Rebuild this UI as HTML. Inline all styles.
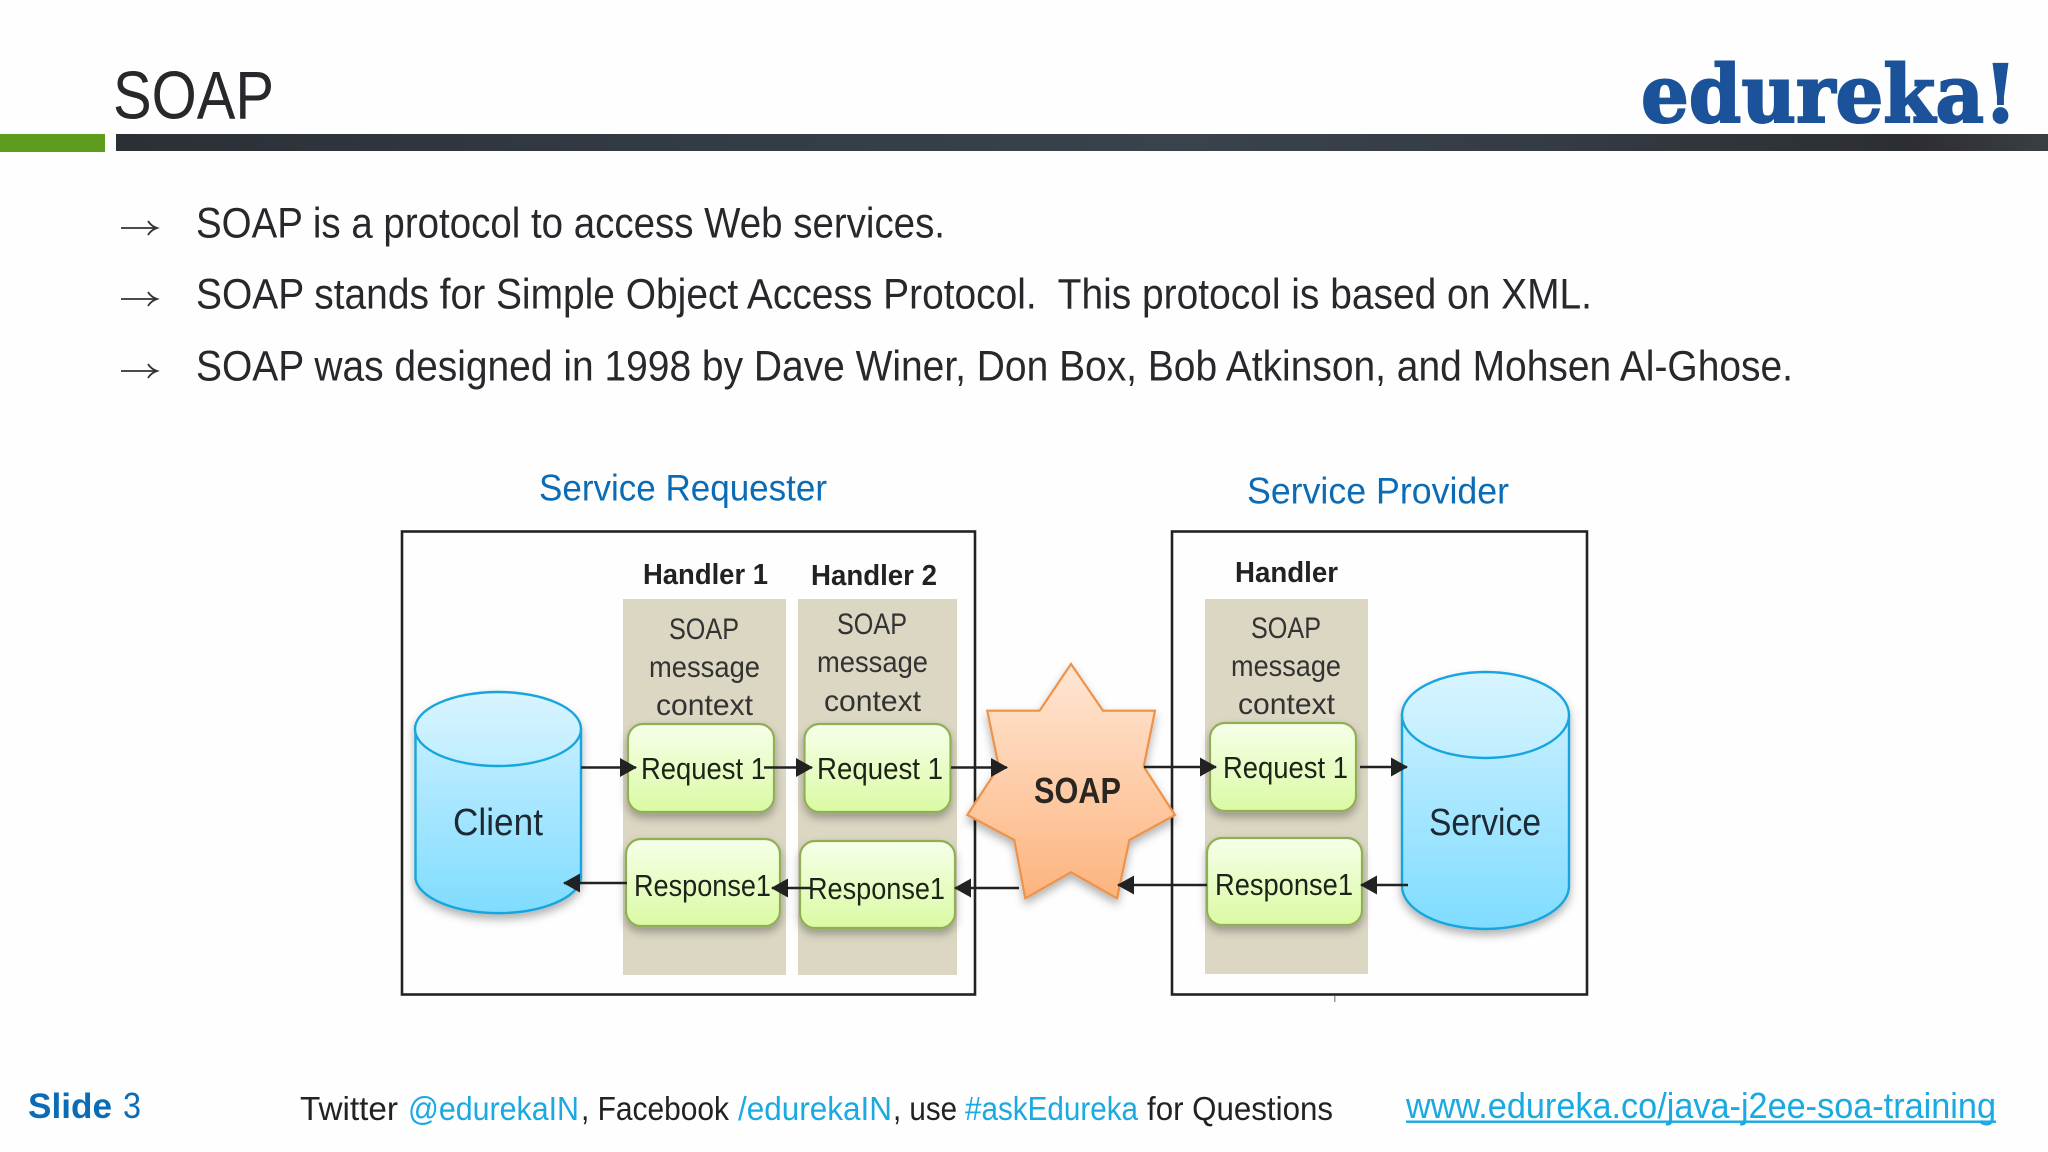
<!DOCTYPE html>
<html><head><meta charset="utf-8"><title>SOAP</title>
<style>
html,body{margin:0;padding:0;background:#fff;width:2048px;height:1152px;overflow:hidden}
svg{display:block}
text{font-family:"Liberation Sans",sans-serif;fill:#222;white-space:pre}
.b{font-size:43px;fill:#26282b}
.h{font-size:29px;font-weight:bold;fill:#222}
.m{font-size:30px;fill:#333}
.r{font-size:31px;fill:#1c2318}
.c{font-size:38px;fill:#1d2a33}
.f{font-size:33px;fill:#222}
.l{font-size:33px;fill:#1aa9e0}
.s{font-size:37px;fill:#0b6cb5}
</style></head><body>
<svg xmlns="http://www.w3.org/2000/svg" width="2048" height="1152" viewBox="0 0 2048 1152">
<defs>
<linearGradient id="bar" x1="0" x2="1" y1="0" y2="0">
<stop offset="0" stop-color="#2b3036"/><stop offset=".3" stop-color="#333b44"/><stop offset=".55" stop-color="#3a424d"/><stop offset=".75" stop-color="#343b43"/><stop offset=".93" stop-color="#2c2e31"/><stop offset="1" stop-color="#3b3e42"/>
</linearGradient>
<linearGradient id="cyl" x1="0" x2="0" y1="0" y2="1">
<stop offset="0" stop-color="#c4eeff"/><stop offset="1" stop-color="#7fdcff"/>
</linearGradient>
<linearGradient id="top" x1="0" x2="0" y1="0" y2="1">
<stop offset="0" stop-color="#d8f4ff"/><stop offset="1" stop-color="#bfeeff"/>
</linearGradient>
<linearGradient id="gr" x1="0" x2="0" y1="0" y2="1">
<stop offset="0" stop-color="#f6ffe9"/><stop offset="1" stop-color="#dafaa3"/>
</linearGradient>
<linearGradient id="st" x1="0" x2="0" y1="0" y2="1">
<stop offset="0" stop-color="#fee6d4"/><stop offset="1" stop-color="#fdb47e"/>
</linearGradient>
<filter id="sh" x="-15%" y="-15%" width="130%" height="135%">
<feDropShadow dx="0" dy="5" stdDeviation="4.5" flood-color="#000" flood-opacity=".3"/>
</filter>
<marker id="ah" markerUnits="userSpaceOnUse" markerWidth="17" markerHeight="19" refX="16" refY="9.5" orient="auto">
<path d="M0 0L17 9.5L0 19Z" fill="#222"/>
</marker>
</defs>

<rect width="2048" height="1152" fill="#fefefe"/>

<!-- header -->
<text x="113" y="118.5" font-size="68" textLength="161" lengthAdjust="spacingAndGlyphs" style="fill:#26282b">SOAP</text>
<text x="1641" y="122" font-size="80" textLength="376" lengthAdjust="spacingAndGlyphs" style="font-family:'DejaVu Serif',serif;font-weight:bold;fill:#1b5299;stroke:#1b5299;stroke-width:2">edureka!</text>
<rect x="0" y="134" width="105" height="18" fill="#5d9c1c"/>
<rect x="116" y="134" width="1932" height="17" fill="url(#bar)"/>

<!-- bullets -->
<g stroke="#333" stroke-width="1.8" fill="none">
<path d="M121 228H157M148 221Q151 226 157 228Q151 230 148 235"/>
<path d="M121 299H157M148 292Q151 297 157 299Q151 301 148 306"/>
<path d="M121 371H157M148 364Q151 369 157 371Q151 373 148 378"/>
</g>
<text class="b" x="196" y="237.5" textLength="749" lengthAdjust="spacingAndGlyphs">SOAP is a protocol to access Web services.</text>
<text class="b" x="196" y="308.5" textLength="1396" lengthAdjust="spacingAndGlyphs">SOAP stands for Simple Object Access Protocol.  This protocol is based on XML.</text>
<text class="b" x="196" y="380.5" textLength="1597" lengthAdjust="spacingAndGlyphs">SOAP was designed in 1998 by Dave Winer, Don Box, Bob Atkinson, and Mohsen Al-Ghose.</text>

<!-- titles -->
<text class="s" x="539" y="500.5" textLength="288" lengthAdjust="spacingAndGlyphs">Service Requester</text>
<text class="s" x="1247" y="503.5" textLength="262" lengthAdjust="spacingAndGlyphs">Service Provider</text>

<!-- frames -->
<rect x="402" y="531.5" width="573" height="463" fill="none" stroke="#222" stroke-width="2.6"/>
<rect x="1172" y="531.5" width="415" height="463" fill="none" stroke="#222" stroke-width="2.6"/>
<rect x="1334" y="996" width="1.5" height="6" fill="#999"/>

<!-- handler bands -->
<rect x="623" y="599" width="163" height="376" fill="#dbd7c3"/>
<rect x="798" y="599" width="159" height="376" fill="#dbd7c3"/>
<rect x="1205" y="599" width="163" height="375" fill="#dbd7c3"/>

<text class="h" x="643" y="584" textLength="125" lengthAdjust="spacingAndGlyphs">Handler 1</text>
<text class="h" x="811" y="585" textLength="126" lengthAdjust="spacingAndGlyphs">Handler 2</text>
<text class="h" x="1235" y="582" textLength="103" lengthAdjust="spacingAndGlyphs">Handler</text>

<text class="m" x="669" y="639" textLength="70" lengthAdjust="spacingAndGlyphs">SOAP</text>
<text class="m" x="649" y="677" textLength="111" lengthAdjust="spacingAndGlyphs">message</text>
<text class="m" x="656" y="715" textLength="97" lengthAdjust="spacingAndGlyphs">context</text>
<text class="m" x="837" y="634" textLength="70" lengthAdjust="spacingAndGlyphs">SOAP</text>
<text class="m" x="817" y="672" textLength="111" lengthAdjust="spacingAndGlyphs">message</text>
<text class="m" x="824" y="711" textLength="97" lengthAdjust="spacingAndGlyphs">context</text>
<text class="m" x="1251" y="638" textLength="70" lengthAdjust="spacingAndGlyphs">SOAP</text>
<text class="m" x="1231" y="676" textLength="110" lengthAdjust="spacingAndGlyphs">message</text>
<text class="m" x="1238" y="714" textLength="97" lengthAdjust="spacingAndGlyphs">context</text>

<!-- client -->
<g filter="url(#sh)">
<path d="M415.5 729V879A83 37 0 0 0 581 879V729Z" fill="url(#cyl)" stroke="#16a5dc" stroke-width="2.4"/>
<ellipse cx="498" cy="729" rx="83" ry="37" fill="url(#top)" stroke="#16a5dc" stroke-width="2.4"/>
</g>
<text class="c" x="453" y="835" textLength="90" lengthAdjust="spacingAndGlyphs">Client</text>

<!-- service -->
<g filter="url(#sh)">
<path d="M1402 715V886A83.5 43 0 0 0 1569 886V715Z" fill="url(#cyl)" stroke="#16a5dc" stroke-width="2.4"/>
<ellipse cx="1485.5" cy="715" rx="83.5" ry="43" fill="url(#top)" stroke="#16a5dc" stroke-width="2.4"/>
</g>
<text class="c" x="1429" y="835" textLength="112" lengthAdjust="spacingAndGlyphs">Service</text>

<!-- star -->
<path filter="url(#sh)" d="M1071 664L1103 710.7H1155L1143.7 766.7L1175 815L1129.4 840L1117 898.3L1071 872.3L1025.3 898.3L1014.3 840L967.3 815L998.8 766.7L987.3 710.7H1039.6Z" fill="url(#st)" stroke="#ee9248" stroke-width="2.2" stroke-linejoin="miter"/>
<text x="1034" y="803" font-size="36" font-weight="bold" textLength="87" lengthAdjust="spacingAndGlyphs" style="fill:#2a2622">SOAP</text>

<!-- boxes -->
<g fill="url(#gr)" stroke="#8fae55" stroke-width="2.2" filter="url(#sh)">
<rect x="628" y="724" width="146" height="88" rx="15"/>
<rect x="804.5" y="724" width="146" height="88" rx="15"/>
<rect x="626" y="839" width="154" height="87" rx="15"/>
<rect x="800" y="841" width="155" height="87" rx="15"/>
<rect x="1210" y="723" width="146" height="88" rx="15"/>
<rect x="1207" y="838" width="155" height="87" rx="15"/>
</g>
<text class="r" x="641" y="779" textLength="125" lengthAdjust="spacingAndGlyphs">Request 1</text>
<text class="r" x="817" y="779" textLength="126" lengthAdjust="spacingAndGlyphs">Request 1</text>
<text class="r" x="1223" y="778" textLength="125" lengthAdjust="spacingAndGlyphs">Request 1</text>
<text class="r" x="634" y="896" textLength="137" lengthAdjust="spacingAndGlyphs">Response1</text>
<text class="r" x="808" y="899" textLength="137" lengthAdjust="spacingAndGlyphs">Response1</text>
<text class="r" x="1215" y="895" textLength="138" lengthAdjust="spacingAndGlyphs">Response1</text>

<!-- connectors -->
<g stroke="#222" stroke-width="2.6" fill="none">
<line x1="581" y1="767.5" x2="636" y2="767.5" marker-end="url(#ah)"/>
<line x1="764" y1="767.5" x2="812" y2="767.5" marker-end="url(#ah)"/>
<line x1="951" y1="767.5" x2="1007" y2="767.5" marker-end="url(#ah)"/>
<line x1="1144" y1="767" x2="1216" y2="767" marker-end="url(#ah)"/>
<line x1="1360" y1="767" x2="1407" y2="767" marker-end="url(#ah)"/>
<line x1="1408" y1="885" x2="1361" y2="885" marker-end="url(#ah)"/>
<line x1="1207" y1="885" x2="1118" y2="885" marker-end="url(#ah)"/>
<line x1="1019" y1="888" x2="955" y2="888" marker-end="url(#ah)"/>
<line x1="811" y1="888" x2="772" y2="888" marker-end="url(#ah)"/>
<line x1="627" y1="883" x2="564" y2="883" marker-end="url(#ah)"/>
</g>

<!-- footer -->
<text x="28" y="1118" font-size="35" font-weight="bold" textLength="84" lengthAdjust="spacingAndGlyphs" style="fill:#0b6cb5">Slide</text>
<text x="123" y="1118" font-size="36" textLength="18" lengthAdjust="spacingAndGlyphs" style="fill:#0b6cb5">3</text>
<text class="f" x="300" y="1120" textLength="98" lengthAdjust="spacingAndGlyphs">Twitter</text>
<text class="l" x="408" y="1120" textLength="171" lengthAdjust="spacingAndGlyphs">@edurekaIN</text>
<text class="f" x="581" y="1120" textLength="148" lengthAdjust="spacingAndGlyphs">, Facebook</text>
<text class="l" x="738" y="1120" textLength="154" lengthAdjust="spacingAndGlyphs">/edurekaIN</text>
<text class="f" x="893" y="1120" textLength="64" lengthAdjust="spacingAndGlyphs">, use</text>
<text class="l" x="965" y="1120" textLength="173" lengthAdjust="spacingAndGlyphs">#askEdureka</text>
<text class="f" x="1147" y="1120" textLength="186" lengthAdjust="spacingAndGlyphs">for Questions</text>
<text x="1406" y="1118" font-size="36" textLength="590" lengthAdjust="spacingAndGlyphs" style="fill:#1aa9e0">www.edureka.co/java-j2ee-soa-training</text>
<rect x="1406" y="1120.5" width="590" height="2.4" fill="#1aa9e0"/>
</svg>
</body></html>
